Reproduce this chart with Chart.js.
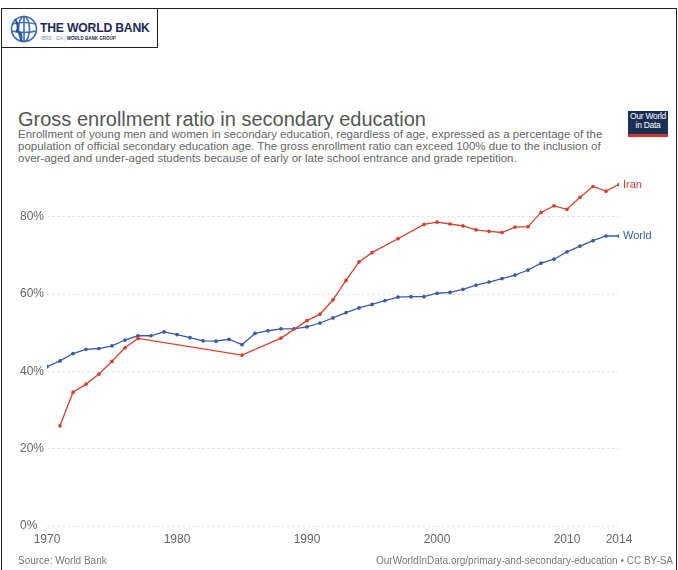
<!DOCTYPE html>
<html>
<head>
<meta charset="utf-8">
<script src="https://cdn.jsdelivr.net/npm/chart.js@4.4.1/dist/chart.umd.min.js"></script>
<style>
  html, body { margin:0; padding:0; background:#fff; }
  body { width:678px; height:570px; position:relative; overflow:hidden; font-family:"Liberation Sans", Arial, sans-serif; }
  #frame { position:absolute; left:1px; top:8px; width:674px; height:600px; border:1px solid #222; }
  #logo { position:absolute; left:1px; top:8px; width:155px; height:38px; border:1px solid #222; background:#fff; }
  #logo svg { position:absolute; left:7px; top:4px; }
  #wbtext { position:absolute; left:38px; top:12px; font-weight:bold; font-size:12.2px; color:#1d2a59; letter-spacing:-0.2px; white-space:nowrap; }
  #wbsub { position:absolute; left:39px; top:27px; font-size:4.5px; color:#6c8fc7; white-space:nowrap; }
  #wbsub b { color:#1d2a59; }
  #title { position:absolute; left:18px; top:108px; font-size:20px; color:#555; white-space:nowrap; }
  #subtitle { position:absolute; left:18px; top:128px; font-size:11.5px; line-height:12px; color:#666; white-space:nowrap; }
  #owid { position:absolute; left:628px; top:111px; width:40px; height:22px; background:#1a2f55; border-bottom:3px solid #d0342b; color:#fff; font-size:8.5px; line-height:9px; text-align:center; padding-top:1px; box-sizing:content-box; letter-spacing:-0.3px; }
  #src { position:absolute; left:18px; top:555px; font-size:10px; color:#777; }
  #url { position:absolute; right:5px; top:555px; font-size:10px; color:#777; }
  #c { position:absolute; left:0; top:0; }
</style>
</head>
<body>
<div id="frame"></div>
<div id="logo">
  <svg width="30" height="32" viewBox="0 0 30 32">
    <g fill="none" stroke="#3d6fb2" stroke-width="1.6">
      <circle cx="15" cy="16" r="12.5"/>
      <ellipse cx="15" cy="16" rx="5.5" ry="12.5"/>
      <line x1="15" y1="3.5" x2="15" y2="28.5"/>
      <path d="M3.5 11 Q15 8 26.5 11"/>
      <path d="M3 18 Q15 21 27 18"/>
    </g>
    <path d="M6 6 Q10 12 8 18 Q14 20 12 28" fill="none" stroke="#2b4f8f" stroke-width="2"/>
  </svg>
  <div id="wbtext">THE WORLD BANK</div>
  <div id="wbsub">IBRD · IDA | <b>WORLD BANK GROUP</b></div>
</div>
<div id="title">Gross enrollment ratio in secondary education</div>
<div id="subtitle">Enrollment of young men and women in secondary education, regardless of age, expressed as a percentage of the<br>population of official secondary education age. The gross enrollment ratio can exceed 100% due to the inclusion of<br>over-aged and under-aged students because of early or late school entrance and grade repetition.</div>
<div id="owid">Our World<br>in Data</div>
<canvas id="c" width="678" height="570"></canvas>
<div id="src">Source: World Bank</div>
<div id="url">OurWorldInData.org/primary-and-secondary-education • CC BY-SA</div>
<script>
const years = [1970,1971,1972,1973,1974,1975,1976,1977,1978,1979,1980,1981,1982,1983,1984,1985,1986,1987,1988,1989,1990,1991,1992,1993,1994,1995,1996,1997,1998,1999,2000,2001,2002,2003,2004,2005,2006,2007,2008,2009,2010,2011,2012,2013,2014];
const worldValues = [41.2,42.7,44.6,45.7,45.9,46.6,48.1,49.2,49.2,50.2,49.5,48.7,47.9,47.8,48.3,46.9,49.8,50.5,51.0,51.0,51.5,52.5,53.8,55.2,56.4,57.3,58.3,59.2,59.3,59.3,60.2,60.4,61.2,62.3,63.1,64.0,64.9,66.2,68.0,69.0,70.9,72.4,73.8,75.0,75.0];
const iranValues = [null,25.9,34.6,36.7,39.3,42.6,46.1,48.5,null,null,null,null,null,null,null,44.2,null,null,48.6,null,53.1,54.8,58.5,63.5,68.3,70.7,null,74.3,null,78.0,78.6,78.1,77.6,76.6,76.2,75.9,77.3,77.4,81.1,82.8,81.9,85.0,87.8,86.6,88.3];
const seriesNames = ["Iran","World"];
const xTicks = [1970,1980,1990,2000,2010,2014];
const yTicks = [0,20,40,60,80];

const RED = '#d8412f', BLUE = '#3a5ca8';
const toXY = arr => years.map((y,i) => ({x:y, y:arr[i]}));

const endLabels = {
  id:'endLabels',
  afterDatasetsDraw(chart){
    const ctx = chart.ctx;
    ctx.save();
    ctx.font = '11px "Liberation Sans", Arial, sans-serif';
    ctx.textBaseline = 'middle';
    ctx.textAlign = 'left';
    chart.data.datasets.forEach((ds,di) => {
      const meta = chart.getDatasetMeta(di);
      let idx = ds.data.length-1;
      while (idx>=0 && ds.data[idx].y == null) idx--;
      const pt = meta.data[idx];
      ctx.fillStyle = ds.borderColor;
      ctx.fillText(ds.label, pt.x+4, pt.y);
    });
    ctx.restore();
  }
};

new Chart(document.getElementById('c'), {
  type:'line',
  data:{
    datasets:[
      {label:seriesNames[0], data:toXY(iranValues), borderColor:RED, backgroundColor:RED, borderWidth:1.3, pointRadius:1.2, pointHoverRadius:1.2, spanGaps:true, tension:0},
      {label:seriesNames[1], data:toXY(worldValues), borderColor:BLUE, backgroundColor:BLUE, borderWidth:1.3, pointRadius:1.2, pointHoverRadius:1.2, spanGaps:true, tension:0}
    ]
  },
  options:{
    responsive:false,
    animation:false,
    events:[],
    layout:{padding:{left:20, right:59, top:178, bottom:24}},
    plugins:{legend:{display:false}, tooltip:{enabled:false}},
    scales:{
      x:{
        type:'linear', min:1970, max:2014,
        afterBuildTicks(s){ s.ticks = xTicks.map(v=>({value:v})); },
        afterFit(s){ s.height = 20; },
        grid:{display:false, drawTicks:false},
        border:{display:false},
        ticks:{color:'#666', font:{family:'"Liberation Sans", Arial, sans-serif', size:12}, padding:6, maxRotation:0, autoSkip:false, callback:v=>String(v)}
      },
      y:{
        min:0, max:90,
        afterBuildTicks(s){ s.ticks = yTicks.map(v=>({value:v})); },
        afterFit(s){ s.width = 27; },
        grid:{color:'#e6e6e6', drawTicks:false, lineWidth:1},
        border:{display:false, dash:[3,2]},
        ticks:{color:'#666', font:{family:'"Liberation Sans", Arial, sans-serif', size:12}, crossAlign:'far', padding:0, callback:v=>v+'%'}
      }
    }
  },
  plugins:[endLabels]
});
</script>
</body>
</html>
